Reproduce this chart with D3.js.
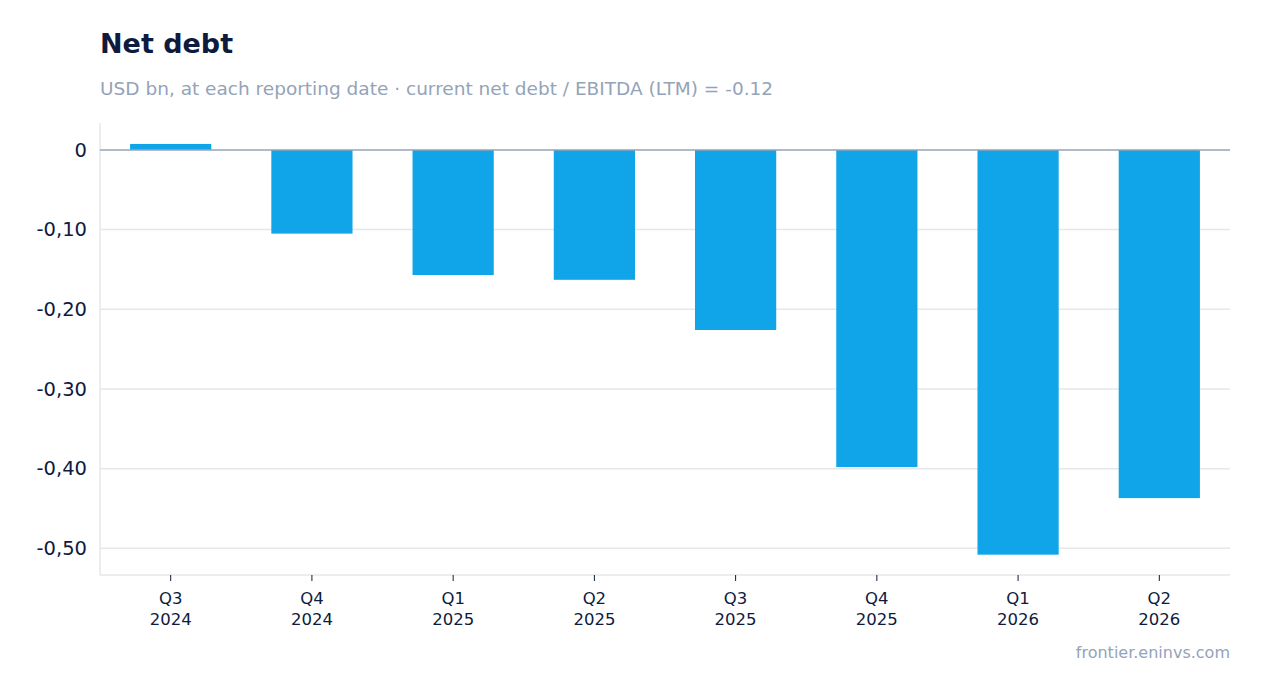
<!DOCTYPE html>
<html><head><meta charset="utf-8">
<script src="https://cdn.jsdelivr.net/npm/d3@7"></script>
<style>body{margin:0;background:#fff;font-family:"DejaVu Sans",sans-serif;}</style>
</head><body><div id="chart"></div>
<script>
const quarters = ['Q3', 'Q4', 'Q1', 'Q2', 'Q3', 'Q4', 'Q1', 'Q2'];
const years = ['2024', '2024', '2025', '2025', '2025', '2025', '2026', '2026'];
const netDebt = [0.0075, -0.105, -0.157, -0.163, -0.226, -0.398, -0.508, -0.437];
const yTicks = [0, -0.1, -0.2, -0.3, -0.4, -0.5];

const width = 1262, height = 693;
const margin = { top: 123, right: 32, bottom: 118, left: 100 };

const svg = d3.select('#chart').append('svg')
    .attr('width', width).attr('height', height);

svg.append('text').attr('x', 100).attr('y', 53)
    .attr('font-size', 27).attr('font-weight', 'bold').attr('fill', '#0d1b3e')
    .text('Net debt');
svg.append('text').attr('x', 100).attr('y', 95)
    .attr('font-size', 18.5).attr('fill', '#94a3b8')
    .text('USD bn, at each reporting date · current net debt / EBITDA (LTM) = -0.12');
svg.append('text').attr('x', 1230).attr('y', 658).attr('text-anchor', 'end')
    .attr('font-size', 16).attr('fill', '#94a3b8')
    .text('frontier.eninvs.com');

const ids = d3.range(netDebt.length);
const x = d3.scaleBand().domain(ids)
    .range([margin.left, width - margin.right]).paddingInner(0.425).paddingOuter(0.213);
const y = d3.scaleLinear().domain([-0.5335, 0.0338])
    .range([height - margin.bottom, margin.top]);

const g = svg.append('g');
g.selectAll('.grid').data(yTicks.filter(d => d !== 0)).enter().append('line')
    .attr('x1', margin.left).attr('x2', width - margin.right)
    .attr('y1', d => y(d)).attr('y2', d => y(d))
    .attr('stroke', '#e5e7eb').attr('stroke-width', 1.5);

// frame
g.append('line').attr('x1', margin.left).attr('x2', margin.left)
    .attr('y1', margin.top).attr('y2', height - margin.bottom)
    .attr('stroke', '#e5e7eb').attr('stroke-width', 1.5);
g.append('line').attr('x1', margin.left).attr('x2', width - margin.right)
    .attr('y1', height - margin.bottom).attr('y2', height - margin.bottom)
    .attr('stroke', '#e5e7eb').attr('stroke-width', 1.5);

g.selectAll('.bar').data(ids).enter().append('rect')
    .attr('x', i => x(i)).attr('width', x.bandwidth())
    .attr('y', i => y(Math.max(0, netDebt[i])))
    .attr('height', i => Math.abs(y(netDebt[i]) - y(0)))
    .attr('fill', '#10a5e8');

g.append('line').attr('x1', margin.left).attr('x2', width - margin.right)
    .attr('y1', y(0)).attr('y2', y(0))
    .attr('stroke', '#94a3b8').attr('stroke-width', 1.5);

g.selectAll('.ytick').data(yTicks).enter().append('text')
    .attr('x', 87).attr('y', d => y(d)).attr('dy', '0.35em')
    .attr('text-anchor', 'end').attr('font-size', 19.5).attr('fill', '#0d1b3e')
    .text(d => d === 0 ? '0' : d3.format('.2f')(d).replace('.', ',').replace('−', '-'));

const xt = g.selectAll('.xtick').data(ids).enter().append('g')
    .attr('transform', i => `translate(${x(i) + x.bandwidth() / 2},${height - margin.bottom})`);
xt.append('line').attr('y1', 0).attr('y2', 6).attr('stroke', '#0d1b3e');
xt.append('text').attr('y', 29).attr('text-anchor', 'middle')
    .attr('font-size', 16.5).attr('fill', '#0d1b3e').text(i => quarters[i]);
xt.append('text').attr('y', 50).attr('text-anchor', 'middle')
    .attr('font-size', 16.5).attr('fill', '#0d1b3e').text(i => years[i]);
</script></body></html>
